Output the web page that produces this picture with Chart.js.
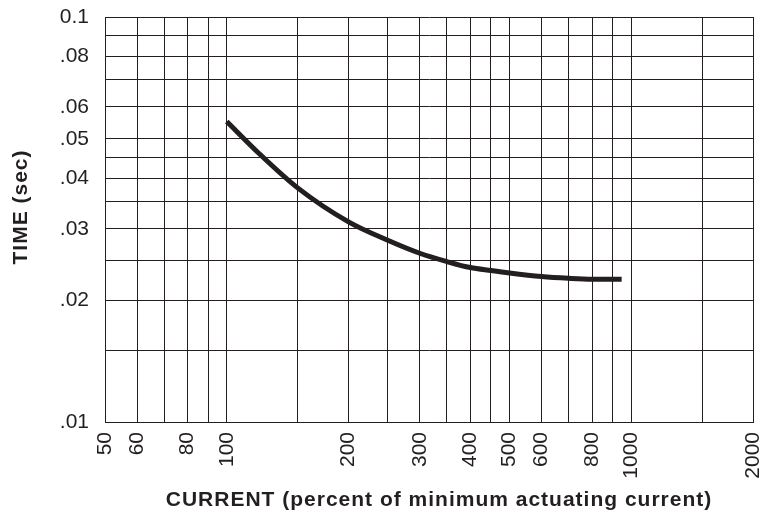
<!DOCTYPE html>
<html>
<head>
<meta charset="utf-8">
<script src="https://cdn.jsdelivr.net/npm/chart.js@4.4.1/dist/chart.umd.min.js"></script>
<style>
  html, body { margin: 0; padding: 0; background: #fff; }
  #wrap { width: 759px; height: 511px; }
</style>
</head>
<body>
<div id="wrap"><canvas id="curveChart"></canvas></div>
<script>
  // Trip curve
  const currentPct = [100, 120, 150, 200, 250, 300, 350, 400, 450, 500, 600, 700, 800, 947];
  const timeSec = [0.0552, 0.0461, 0.0378, 0.0312, 0.0281, 0.0261, 0.0249, 0.02406, 0.02365, 0.02332, 0.02286, 0.02263, 0.02251, 0.0225];

  // Grid lines and which ones get a label
  const xGrid = [50, 60, 70, 80, 90, 100, 150, 200, 250, 300, 350, 400, 450, 500, 600, 700, 800, 900, 1000, 1500, 2000];
  const xLabels = [50, 60, 80, 100, 200, 300, 400, 500, 600, 800, 1000, 2000];
  const yGrid = [0.01, 0.015, 0.02, 0.025, 0.03, 0.035, 0.04, 0.045, 0.05, 0.06, 0.07, 0.08, 0.09, 0.1];
  const yLabels = { 0.01: '.01', 0.02: '.02', 0.03: '.03', 0.04: '.04', 0.05: '.05', 0.06: '.06', 0.08: '.08', 0.1: '0.1' };

  const ink = '#231f20';
  const tickFont = { family: '"Liberation Sans", Arial, sans-serif', size: 21 };

  // axis titles drawn by hand so they can sit a little off-centre like the original
  const axisTitles = {
    id: 'axisTitles',
    afterDraw(chart) {
      const { left, bottom } = chart.chartArea;
      const ctx = chart.ctx;
      ctx.save();
      ctx.fillStyle = ink;
      ctx.font = 'bold 21px "Liberation Sans", Arial, sans-serif';
      ctx.letterSpacing = '1px';
      ctx.textAlign = 'center';
      ctx.textBaseline = 'middle';
      ctx.fillText('CURRENT (percent of minimum actuating current)', left + 334, bottom + 78);
      ctx.translate(left - 84, 207);
      ctx.rotate(-Math.PI / 2);
      ctx.fillText('TIME (sec)', 0, 0);
      ctx.restore();
    }
  };

  new Chart(document.getElementById('curveChart'), {
    type: 'line',
    data: {
      datasets: [{
        data: currentPct.map((x, i) => ({ x: x, y: timeSec[i] })),
        borderColor: ink,
        borderWidth: 5,
        borderCapStyle: 'butt',
        pointRadius: 0,
        fill: false,
        cubicInterpolationMode: 'monotone'
      }]
    },
    options: {
      responsive: true,
      maintainAspectRatio: false,
      animation: false,
      layout: { padding: { top: 17, right: 6, left: 0, bottom: 0 } },
      plugins: {
        legend: { display: false },
        tooltip: { enabled: false }
      },
      scales: {
        x: {
          type: 'logarithmic',
          min: 50,
          max: 2000,
          afterBuildTicks: (scale) => { scale.ticks = xGrid.map(v => ({ value: v })); },
          afterFit: (scale) => { scale.height = 89; scale.paddingLeft = 0; scale.paddingRight = 0; },
          grid: { color: ink, lineWidth: 1, drawTicks: false },
          border: { color: ink, width: 1 },
          ticks: {
            autoSkip: false,
            maxRotation: 90,
            minRotation: 90,
            padding: 10,
            color: ink,
            font: tickFont,
            callback: (v) => xLabels.includes(v) ? String(v) : ''
          }
        },
        y: {
          type: 'logarithmic',
          min: 0.01,
          max: 0.1,
          afterBuildTicks: (scale) => { scale.ticks = yGrid.map(v => ({ value: v })); },
          afterFit: (scale) => { scale.width = 105; scale.paddingTop = 0; scale.paddingBottom = 0; },
          grid: { color: ink, lineWidth: 1, drawTicks: false },
          border: { color: ink, width: 1 },
          ticks: {
            autoSkip: false,
            padding: 16,
            color: ink,
            font: tickFont,
            callback: (v) => yLabels[v] || ''
          }
        }
      }
    },
    plugins: [axisTitles]
  });
</script>
</body>
</html>
